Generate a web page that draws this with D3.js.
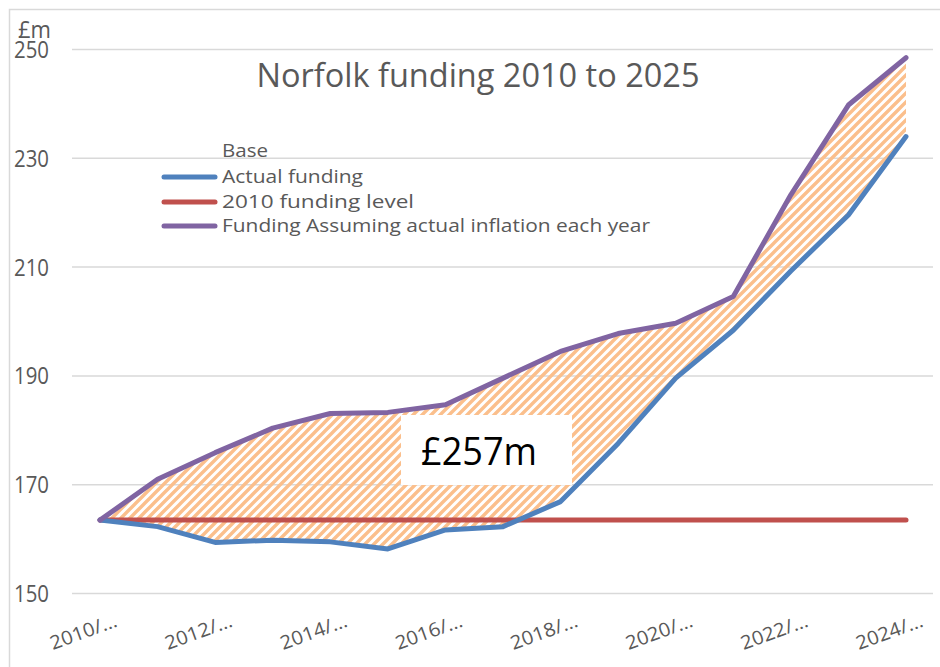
<!DOCTYPE html>
<html><head><meta charset="utf-8">
<script src="https://cdn.jsdelivr.net/npm/d3@7"></script>
<style>body{margin:0;background:#fff}svg{display:block}text{font-family:"Open Sans",sans-serif}</style>
</head><body><svg id="c" width="940" height="667"></svg>
<script>
const categories = ["2010/11","2011/12","2012/13","2013/14","2014/15","2015/16","2016/17","2017/18","2018/19","2019/20","2020/21","2021/22","2022/23","2023/24","2024/25"];
const actualFunding = [163.4,162.2,159.3,159.7,159.4,158.1,161.6,162.2,166.8,177.5,189.5,198.3,209.2,219.5,233.9];
const baseLevel2010 = [163.4,163.4,163.4,163.4,163.4,163.4,163.4,163.4,163.4,163.4,163.4,163.4,163.4,163.4,163.4];
const inflationFunding = [163.4,170.9,175.8,180.3,183.0,183.2,184.6,189.5,194.4,197.7,199.6,204.5,223.2,239.7,248.4];
const yTicks = [150,170,190,210,230,250];
const title = "Norfolk funding 2010 to 2025";
const gapLabel = "£257m";
const unitLabel = "£m";
const legendItems = [
  {name:"Base", color:null},
  {name:"Actual funding", color:"#4F81BD"},
  {name:"2010 funding level", color:"#C0504D"},
  {name:"Funding Assuming actual inflation each year", color:"#8064A2"}
];

const svg = d3.select("#c");
const x = d3.scalePoint().domain(categories).range([100,906]);
const y = d3.scaleLinear().domain([150,250]).range([593,49]);

// border
svg.append("rect").attr("x",9.5).attr("y",9.5).attr("width",940).attr("height",667)
  .attr("fill","none").attr("stroke","#D9D9D9").attr("stroke-width",1.5);

const defs = svg.append("defs");
const pat = defs.append("pattern").attr("id","hatch").attr("patternUnits","userSpaceOnUse")
  .attr("width",9).attr("height",9);
pat.append("path").attr("d","M-2,2 L2,-2 M0,9 L9,0 M7,11 L11,7")
  .attr("stroke","#FBBF8C").attr("stroke-width",3.4);

// gridlines
const yAxis = d3.axisLeft(y).tickValues(yTicks).tickSize(-(933-72)).tickPadding(0).tickFormat(d3.format("d"));
const gA = svg.append("g").attr("transform","translate(72,0)").call(yAxis);
gA.select(".domain").remove();
gA.selectAll(".tick line").attr("stroke","#D9D9D9").attr("stroke-width",1.5);
gA.selectAll(".tick text").attr("x",-23).attr("dy",null).attr("y",8.5)
  .attr("text-anchor","end").attr("fill","#595959").attr("font-size",24)
  .attr("textLength",35).attr("lengthAdjust","spacingAndGlyphs");

svg.append("text").attr("x",18).attr("y",38).text(unitLabel)
  .attr("fill","#595959").attr("font-size",24).attr("textLength",33).attr("lengthAdjust","spacingAndGlyphs");

// x labels
const xAxis = d3.axisBottom(x).tickValues(categories.filter((d,i)=>i%2===0)).tickSize(0)
  .tickFormat(d=>d.slice(0,5)+"…");
const gX = svg.append("g").call(xAxis);
gX.select(".domain").remove();
gX.selectAll(".tick text").attr("y",0).attr("dy",null)
  .attr("transform","translate(18,626) rotate(-20)")
  .attr("text-anchor","end").attr("fill","#595959").attr("font-size",19)
  .attr("textLength",70).attr("lengthAdjust","spacingAndGlyphs");

// hatched gap area
const idx = d3.range(categories.length);
const area = d3.area().x(i=>x(categories[i])).y0(i=>y(actualFunding[i])).y1(i=>y(inflationFunding[i]));
svg.append("path").datum(idx).attr("d",area).attr("fill","url(#hatch)");

// label box
svg.append("rect").attr("x",401).attr("y",415).attr("width",171).attr("height",70).attr("fill","#fff");
svg.append("text").attr("x",479).attr("y",465).attr("text-anchor","middle").text(gapLabel)
  .attr("fill","#000").attr("font-size",39).attr("textLength",116).attr("lengthAdjust","spacingAndGlyphs");

// lines
const line = arr => d3.line().x(i=>x(categories[i])).y(i=>y(arr[i]))(idx);
[[baseLevel2010,"#C0504D"],[actualFunding,"#4F81BD"],[inflationFunding,"#8064A2"]].forEach(([arr,c])=>{
  svg.append("path").attr("d",line(arr)).attr("fill","none").attr("stroke",c)
    .attr("stroke-width",5).attr("stroke-linejoin","round").attr("stroke-linecap","round");
});

// title
svg.append("text").attr("x",478).attr("y",87).attr("text-anchor","middle").text(title)
  .attr("fill","#595959").attr("font-size",32).attr("textLength",443).attr("lengthAdjust","spacingAndGlyphs");

// legend
const baselines = [157,183,208,232];
const legendWidths = [46,141,192,428];
legendItems.forEach((it,i)=>{
  if(it.color){
    svg.append("line").attr("x1",164).attr("x2",215).attr("y1",baselines[i]-6).attr("y2",baselines[i]-6)
      .attr("stroke",it.color).attr("stroke-width",5).attr("stroke-linecap","round");
  }
  svg.append("text").attr("x",222).attr("y",baselines[i]).text(it.name)
    .attr("fill","#595959").attr("font-size",19)
    .attr("textLength",legendWidths[i]).attr("lengthAdjust","spacingAndGlyphs");
});
</script></body></html>
